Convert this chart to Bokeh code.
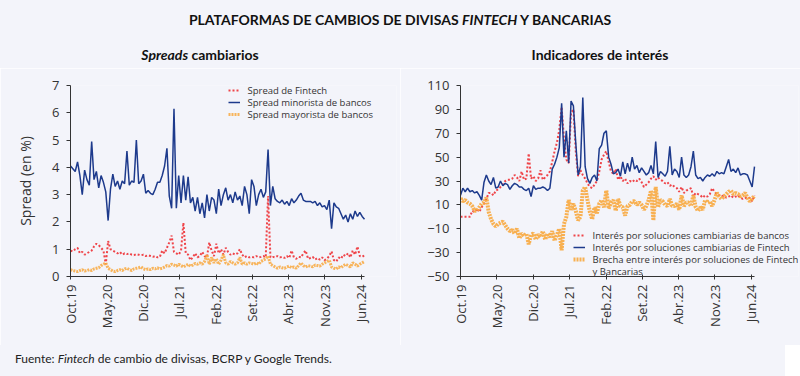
import pandas as pd
from bokeh.plotting import figure
from bokeh.models import Range1d, FixedTicker, Legend, LegendItem, Div, Label
from bokeh.layouts import column, row
from bokeh.embed import file_html
from bokeh.resources import INLINE

# ---------------- data ----------------
start_date = "2019-10-01"
end_date = "2024-06-21"
n_points = 126

tick_dates = ["2019-10-01", "2020-05-01", "2020-12-01", "2021-07-01", "2022-02-01",
              "2022-09-01", "2023-04-01", "2023-11-01", "2024-06-01"]
tick_labels = ["Oct.19", "May.20", "Dic.20", "Jul.21", "Feb.22", "Set.22", "Abr.23", "Nov.23", "Jun.24"]

left_series_names = ["Spread de Fintech", "Spread minorista de bancos", "Spread mayorista de bancos"]
right_series_names = ["Interés por soluciones cambiarias de bancos",
                      "Interés por soluciones cambiarias de Fintech",
                      "Brecha entre interés por soluciones de Fintech",
                      "y Bancarias"]

# Left chart: spreads (%)
spread_fintech = [0.95, 0.92, 1.0, 1.05, 0.85, 0.9, 0.8, 0.85, 0.9, 0.95,
                  1.1, 1.2, 1.15, 1.05, 0.95, 0.45, 1.3, 1.0, 0.95, 0.9,
                  0.85, 0.9, 0.8, 0.85, 0.82, 0.85, 0.8, 0.78, 0.82, 0.8,
                  0.78, 0.8, 0.75, 0.78, 0.75, 0.72, 0.75, 0.7, 0.72, 0.95,
                  0.85, 1.05, 1.25, 1.5, 0.9, 0.85, 0.8, 0.95, 1.97, 0.85,
                  0.8, 0.6, 0.7, 0.85, 0.7, 0.75, 0.9, 0.75, 0.7, 1.25,
                  0.95, 0.75, 1.2, 0.85, 1.0, 0.8, 1.05, 0.9, 0.8, 0.85,
                  0.8, 0.85, 1.0, 0.8, 0.7, 0.75, 0.7, 0.72, 0.7, 0.75,
                  0.7, 0.72, 0.75, 0.7, 2.95, 0.7, 0.72, 0.7, 0.75, 0.7,
                  0.72, 0.68, 0.75, 0.68, 0.95, 0.7, 0.65, 0.72, 0.7, 0.85,
                  0.95, 0.65, 0.68, 0.72, 0.62, 0.68, 0.62, 0.7, 0.6, 0.65,
                  0.75, 0.92, 0.6, 0.55, 0.7, 0.65, 0.8, 0.75, 0.85, 0.7,
                  0.95, 0.8, 1.1, 0.75, 0.72, 0.78]
spread_minorista = [4.05, 3.95, 3.85, 4.2, 3.7, 3.0, 3.9, 3.55, 3.35, 4.95,
                    3.55, 3.85, 3.25, 3.7, 3.45, 3.1, 2.05, 3.2, 3.75, 3.3,
                    3.5, 3.2, 3.5, 3.4, 4.6, 3.35, 3.5, 3.45, 5.0, 3.4,
                    3.5, 3.75, 3.05, 3.15, 3.05, 3.0, 3.2, 3.45, 3.45, 3.7,
                    4.05, 4.7, 2.95, 2.5, 6.15, 2.5, 3.7, 2.7, 3.7, 2.8,
                    3.65, 2.7, 2.9, 2.4, 2.9, 2.3, 2.7, 2.15, 3.0, 2.4,
                    2.9, 2.8, 2.3, 3.2, 2.6, 3.0, 3.25, 2.8, 3.0, 2.7,
                    3.1, 2.8, 2.95, 2.6, 3.3, 3.0, 2.3, 3.55, 3.3, 2.6,
                    3.0, 3.2, 2.9, 3.1, 4.65, 2.6, 3.3, 2.85, 2.75, 2.7,
                    2.8, 2.65, 2.75, 2.6, 2.85, 2.7, 2.8, 2.95, 3.05, 2.8,
                    2.75, 2.75, 2.75, 2.7, 2.75, 2.6, 2.7, 2.55, 2.6, 2.45,
                    2.8, 1.75, 2.7, 2.55, 2.5, 2.3, 2.1, 2.25, 2.0, 2.3,
                    2.1, 2.4, 2.2, 2.35, 2.2, 2.1]
spread_mayorista = [0.25, 0.22, 0.2, 0.18, 0.22, 0.25, 0.2, 0.22, 0.25, 0.22,
                    0.28, 0.3, 0.32, 0.4, 0.45, 0.5, 0.3, 0.25, 0.2, 0.18,
                    0.22, 0.25, 0.22, 0.28, 0.3, 0.25, 0.22, 0.28, 0.3, 0.32,
                    0.35, 0.28, 0.25, 0.28, 0.25, 0.3, 0.28, 0.32, 0.28, 0.3,
                    0.35, 0.4, 0.38, 0.45, 0.42, 0.38, 0.45, 0.4, 0.35, 0.4,
                    0.45, 0.38, 0.42, 0.48, 0.45, 0.5, 0.45, 0.55, 0.8, 0.45,
                    0.7, 0.5, 0.65, 0.45, 0.6, 0.8, 0.5, 0.45, 0.55, 0.5,
                    0.45, 0.5, 0.7, 0.45, 0.5, 0.45, 0.5, 0.48, 0.45, 0.5,
                    0.45, 0.55, 0.6, 0.65, 0.75, 0.45, 0.4, 0.35, 0.3, 0.35,
                    0.32, 0.3, 0.35, 0.38, 0.32, 0.35, 0.3, 0.4, 0.5, 0.4,
                    0.35, 0.4, 0.38, 0.35, 0.42, 0.4, 0.38, 0.45, 0.5, 0.55,
                    0.6, 0.35, 0.3, 0.28, 0.35, 0.32, 0.4, 0.45, 0.4, 0.35,
                    0.5, 0.45, 0.38, 0.45, 0.5, 0.55]

# Right chart: interest indicators
interes_bancos = [0, 0, 0, 0, 0, 5, 4, 7, 4, 8,
                  11, 15, 20, 20, 18, 22, 23, 25, 27, 30,
                  31, 31, 32, 35, 33, 30, 38, 31, 32, 53,
                  32, 34, 30, 32, 39, 31, 33, 35, 38, 46,
                  55, 62, 73, 92, 65, 48, 45, 87, 90, 55,
                  34, 39, 35, 32, 28, 25, 24, 27, 30, 38,
                  48, 52, 55, 46, 38, 36, 40, 31, 34, 30,
                  32, 28, 30, 29, 31, 30, 32, 29, 25, 27,
                  29, 32, 34, 31, 33, 31, 30, 28, 29, 26,
                  27, 25, 24, 21, 25, 20, 22, 23, 24, 17,
                  20, 19, 18, 16, 18, 17, 19, 24, 21, 19,
                  18, 17, 18, 16, 17, 18, 16, 17, 18, 16,
                  15, 16, 15, 16, 13, 18]
interes_fintech = [18, 24, 21, 24, 21, 22, 20, 21, 18, 14,
                   29, 35, 30, 27, 33, 24, 25, 30, 26, 28,
                   27, 23, 26, 28, 27, 25, 25, 23, 22, 24,
                   17, 26, 23, 24, 24, 25, 24, 22, 24, 40,
                   44, 50, 58, 95, 50, 72, 45, 97, 93, 62,
                   35, 42, 100, 42, 32, 28, 33, 35, 30, 57,
                   60, 70, 72, 50, 44, 36, 37, 40, 34, 46,
                   36, 45, 38, 50, 40, 43, 37, 41, 38, 35,
                   37, 43, 36, 63, 33, 38, 36, 34, 38, 59,
                   35, 40, 38, 33, 50, 35, 33, 35, 42, 55,
                   35, 32, 33, 30, 33, 35, 34, 36, 34, 38,
                   36, 37, 36, 42, 48, 38, 40, 37, 41, 35,
                   36, 36, 35, 30, 25, 42]
brecha = [15.6, 13, 14, 12, 11, 9, 5, 5, 8, 11,
          12, 16, 4, -2, -6, -8, -6, -5, -4, -7,
          -10, -12, -11, -14, -10, -18, -14, -16, -14, -23,
          -15, -14, -19, -15, -17, -12, -19, -14, -17, -12,
          -20, -15, -10, -28, -6, 0, 14, 6, 11, 5,
          -3, 0, 22, 25, 14, 4, -2, 8, 3, 11,
          14, 8, 22, 7, 12, 14, 5, 15, 9, 8,
          1, 9, 10, 13, 13, 10, 12, 10, 6, 9,
          14, 22, -3, 25, 8, 14, 13, 10, 9, 15,
          9, 9, 11, 6, 18, 9, 12, 12, 9, 18,
          8, 5, 8, 6, 14, 12, 13, 9, 14, 20,
          17, 15, 17, 19, 21, 22, 19, 20, 19, 17,
          18, 20, 16, 13, 15, 18]

# ---------------- styling ----------------
BG = "#f3f4fa"
NAVY = "#1d3a8c"
RED = "#ef4449"
ORANGE = "#f8a83e"
TXT = "#333333"
FONT = "Open Sans"

AXIS_PX = 294  # length of the drawn x axis in pixels

dates = pd.date_range(start_date, end_date, periods=n_points)
tick_ms = [int(pd.Timestamp(d).value // 10**6) for d in tick_dates]
x_start = pd.Timestamp(start_date)
x_end = pd.Timestamp(end_date)


def make_fig(y0, y1, yticks, min_left, min_right):
    frame_w = 400 - min_left - min_right
    x_range_end = x_start + (x_end - x_start) * (frame_w / AXIS_PX)
    p = figure(width=400, height=277, x_axis_type="datetime",
               output_backend="svg", toolbar_location=None,
               x_range=Range1d(x_start, x_range_end), y_range=Range1d(y0, y1),
               min_border_left=min_left, min_border_right=min_right,
               min_border_top=17, min_border_bottom=69)
    p.background_fill_color = BG
    p.border_fill_color = BG
    p.outline_line_color = None
    p.xgrid.visible = False
    p.ygrid.visible = False
    p.xaxis.bounds = (x_start, x_end)
    p.xaxis.ticker = FixedTicker(ticks=tick_ms)
    p.xaxis.major_label_overrides = dict(zip(tick_ms, tick_labels))
    p.xaxis.major_label_orientation = 1.5708
    p.yaxis.ticker = FixedTicker(ticks=yticks)
    for ax in (p.xaxis[0], p.yaxis[0]):
        ax.axis_line_color = TXT
        ax.major_tick_line_color = TXT
        ax.minor_tick_line_color = None
        ax.major_label_text_font = FONT
        ax.major_label_text_font_size = "13px"
        ax.major_label_text_color = TXT
    p.xaxis.major_tick_in = 2
    p.xaxis.major_tick_out = 3
    p.xaxis.major_label_standoff = 5
    p.yaxis.major_tick_in = 0
    p.yaxis.major_tick_out = 4
    p.yaxis.major_label_standoff = 7
    return p


def glyph_legend(renderers, loc):
    items = [LegendItem(label=" ", renderers=[r]) for r in renderers]
    return Legend(items=items, location=loc, padding=0, margin=0, spacing=0,
                  glyph_width=12, glyph_height=12, label_height=12,
                  label_width=1, label_standoff=0, label_text_font_size="9px",
                  background_fill_alpha=0, border_line_alpha=0)


def legend_texts(p, names, x, ys):
    for name, y in zip(names, ys):
        p.add_layout(Label(x=x, y=y, x_units="screen", y_units="screen", text=name,
                           text_font=FONT, text_font_size="9.5px", text_color=TXT,
                           text_baseline="middle", text_align="left"))


# ---- left chart ----
p1 = make_fig(0, 7, list(range(0, 8)), 70, 4)
r_fin = p1.line(dates, spread_fintech, line_color=RED, line_width=2, line_dash="2 2")
r_min = p1.line(dates, spread_minorista, line_color=NAVY, line_width=1.5)
r_may = p1.line(dates, spread_mayorista, line_color=ORANGE, line_width=3, line_dash="2 1", line_alpha=0.85)
p1.yaxis.axis_label = "Spread (en %)"
p1.yaxis.axis_label_text_font = FONT
p1.yaxis.axis_label_text_font_size = "14px"
p1.yaxis.axis_label_text_font_style = "normal"
p1.yaxis.axis_label_text_color = TXT
p1.yaxis.axis_label_standoff = 14
p1.add_layout(glyph_legend([r_fin, r_min, r_may], (158, 156)))
legend_texts(p1, left_series_names, 177, [186.5, 174.5, 162.5])

# ---- right chart ----
p2 = make_fig(-50, 110, list(range(-50, 111, 20)), 60, 2)
r_ban = p2.line(dates, interes_bancos, line_color=RED, line_width=2, line_dash="2 2")
r_ft = p2.line(dates, interes_fintech, line_color=NAVY, line_width=1.5)
r_br = p2.line(dates, brecha, line_color=ORANGE, line_width=4, line_dash="2 1", line_alpha=0.9)
p2.add_layout(glyph_legend([r_ban, r_ft, r_br], (113, 11)))
legend_texts(p2, right_series_names, 132, [41, 29, 17, 5])

# ---- texts ----
title = Div(text=('<div style="width:800px;height:42px;line-height:40px;text-align:center;'
                  'font-family:Lato;font-weight:bold;font-size:14px;color:#111;background:%s;">'
                  'PLATAFORMAS DE CAMBIOS DE DIVISAS <i>FINTECH</i> Y BANCARIAS</div>' % BG),
            width=800, height=42, margin=0)
sub1 = Div(text=('<div style="width:400px;height:26px;line-height:26px;text-align:center;'
                 'font-family:Lato;font-weight:bold;font-size:14px;color:#111;background:%s;">'
                 '<i>Spreads</i> cambiarios</div>' % BG), width=400, height=26, margin=0)
sub2 = Div(text=('<div style="width:400px;height:26px;line-height:26px;text-align:center;'
                 'font-family:Lato;font-weight:bold;font-size:14px;color:#111;background:%s;">'
                 'Indicadores de interés</div>' % BG), width=400, height=26, margin=0)
footer = Div(text=('<div style="width:785px;height:31px;padding-left:15px;line-height:28px;'
                   'font-family:Lato;font-size:12px;color:#222;background:%s;">'
                   'Fuente: <i>Fintech</i> de cambio de divisas, BCRP y Google Trends.</div>' % BG),
             width=800, height=31, margin=0)

layout = column(title, row(sub1, sub2), row(p1, p2), footer, spacing=0)

open("out.html", "w").write(file_html(layout, INLINE))
